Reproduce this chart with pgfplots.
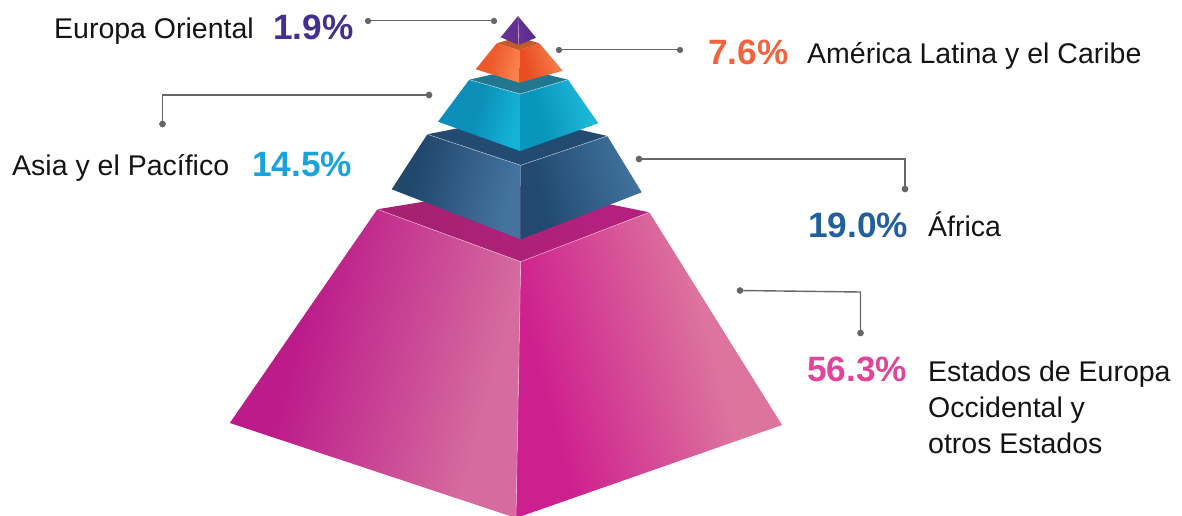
\documentclass[border=0pt]{standalone}
\usepackage{pgfplots}
\pgfplotsset{compat=1.18}
\usepackage{fontspec}
\setmainfont{Liberation Sans}

% Face shadings: stops 25bp and 75bp fall on the edges of the filled shape
\newcommand{\faceshade}[5]{\pgfdeclarehorizontalshading{#1}{100bp}{%
  rgb(0bp)=(#2);rgb(#3bp)=(#2);rgb(#4bp)=(#5);rgb(100bp)=(#5)}}
\faceshade{pinkL}{0.737,0.106,0.541}{36}{70}{0.835,0.420,0.620}
\faceshade{pinkR}{0.808,0.122,0.557}{30}{62}{0.863,0.455,0.616}
\faceshade{pinkT}{0.650,0.130,0.440}{30}{70}{0.710,0.125,0.500}
\faceshade{blueL}{0.129,0.278,0.424}{32}{72}{0.267,0.451,0.627}
\faceshade{blueR}{0.133,0.290,0.439}{32}{72}{0.247,0.443,0.612}
\faceshade{cyanL}{0.043,0.561,0.722}{48}{74}{0.078,0.702,0.839}
\faceshade{cyanR}{0.035,0.588,0.737}{38}{70}{0.114,0.722,0.847}
\faceshade{oranL}{0.933,0.353,0.165}{42}{74}{0.969,0.510,0.306}
\faceshade{oranR}{0.914,0.306,0.137}{32}{72}{0.969,0.494,0.294}
\faceshade{purpL}{0.420,0.200,0.590}{30}{72}{0.380,0.180,0.560}
\faceshade{purpR}{0.400,0.190,0.580}{30}{72}{0.330,0.160,0.530}

\definecolor{leader}{HTML}{666666}
\definecolor{labelInk}{HTML}{141414}
\definecolor{valPurple}{HTML}{3F3190}
\definecolor{valOrange}{HTML}{F2643E}
\definecolor{valCyan}{HTML}{19A3DC}
\definecolor{valBlue}{HTML}{215F9E}
\definecolor{valPink}{HTML}{E0459B}
\definecolor{topCyan}{HTML}{227690}
\definecolor{topBlue}{HTML}{234B72}
\definecolor{topOrange}{HTML}{C45A2A}

\newcommand{\lab}[3]{\node[anchor=base west,inner sep=0pt,font=\fontsize{28.5}{28.5}\selectfont,text=labelInk] at (axis cs:#1,#2) {#3};}
\newcommand{\val}[4]{\node[anchor=base west,inner sep=0pt,font=\fontsize{35.2}{35.2}\selectfont\bfseries,text=#4] at (axis cs:#1,#2) {#3};}

\begin{document}
\begin{tikzpicture}
\path[use as bounding box] (0,0) rectangle (1182pt,516pt);
\begin{axis}[
  at={(0,0)}, anchor=south west,
  hide axis, scale only axis,
  width=1182pt, height=516pt,
  xmin=0, xmax=1182, ymin=0, ymax=516, y dir=reverse,
  clip=true,
  highlight/.style={draw=white, draw opacity=0.5, line width=0.6pt},
  guide/.style={draw=leader, line width=1.4pt, mark=*, mark size=2.6pt,
    mark options={fill=leader, draw=leader, solid}},
]
% Bottom tier: Estados de Europa Occidental y otros Estados, 56.3
\addplot[draw=none, shading=pinkT] coordinates {(377.3,209.3) (520,186) (649.3,212.3) (520.7,261.7)} --cycle;
\addplot[draw=none, shading=pinkL, shading angle=-15] coordinates {(377.3,209.3) (520.7,261.7) (516,518) (229.8,423)} --cycle;
\addplot[draw=none, shading=pinkR, shading angle=15] coordinates {(520.7,261.7) (649.3,212.3) (782,425) (516,518)} --cycle;
\addplot[highlight] coordinates {(377.3,209.3) (520.7,261.7) (649.3,212.3)};
\addplot[highlight] coordinates {(520.7,261.7) (516,518)};

% Africa tier, 19.0
\addplot[draw=none, fill=topBlue] coordinates {(427.3,134.3) (520,116) (607.3,136) (520.7,165.3)} --cycle;
\addplot[draw=none, shading=blueL, shading angle=-15] coordinates {(427.3,134.3) (520.7,165.3) (520.7,239.3) (391.7,189.3)} --cycle;
\addplot[draw=none, shading=blueR, shading angle=15] coordinates {(520.7,165.3) (607.3,136) (641.7,192.3) (520.7,239.3)} --cycle;
\addplot[highlight] coordinates {(427.3,134.3) (520.7,165.3) (607.3,136)};

% Asia y el Pacifico tier, 14.5
\addplot[draw=none, fill=topCyan] coordinates {(469.3,79.7) (520,68) (568,79.7) (520,94)} --cycle;
\addplot[draw=none, shading=cyanL, shading angle=-15] coordinates {(469.3,79.7) (520,94) (520,151) (438,121.7)} --cycle;
\addplot[draw=none, shading=cyanR, shading angle=15] coordinates {(520,94) (568,79.7) (598.3,123.3) (520,151)} --cycle;
\addplot[highlight] coordinates {(469.3,79.7) (520,94) (568,79.7)};

% America Latina y el Caribe tier, 7.6
\addplot[draw=none, fill=topOrange] coordinates {(496.7,43.3) (518,37) (539.3,43.3) (519.3,50.3)} --cycle;
\addplot[draw=none, shading=oranL, shading angle=-15] coordinates {(496.7,43.3) (519.3,50.3) (519.3,82.7) (475.7,69.3)} --cycle;
\addplot[draw=none, shading=oranR, shading angle=15] coordinates {(519.3,50.3) (539.3,43.3) (562.7,70.7) (519.3,82.7)} --cycle;

% Europa Oriental tier, 1.9
\addplot[draw=none, shading=purpL, shading angle=-15] coordinates {(518,16) (518.7,45) (500.7,37.3)} --cycle;
\addplot[draw=none, shading=purpR, shading angle=15] coordinates {(518,16) (536,37.7) (518.7,45)} --cycle;
\addplot[highlight] coordinates {(518,16) (518.7,45)};

% Leader lines with end dots
\addplot[guide, mark indices={1,2}, line width=1pt] coordinates {(368,21) (494,21)};
\addplot[guide, mark indices={1,2}, line width=1pt] coordinates {(559,50) (680,50)};
\addplot[guide, mark indices={1,3}] coordinates {(429,95) (162.5,95) (162.5,124)};
\addplot[guide, mark indices={1,3}] coordinates {(639,159) (905,159) (905,189)};
\addplot[guide, mark indices={1,3}] coordinates {(740,290.5) (860.5,292) (860.5,333)};

% Labels and values
\lab{54}{38.5}{Europa Oriental}
\val{273}{40}{1.9\%}{valPurple}
\val{708}{65}{7.6\%}{valOrange}
\lab{807}{64}{América Latina y el Caribe}
\lab{12}{175.5}{Asia y el Pacífico}
\val{252}{176}{14.5\%}{valCyan}
\val{808}{237}{19.0\%}{valBlue}
\lab{928}{236}{África}
\val{807}{381}{56.3\%}{valPink}
\lab{928}{381}{Estados de Europa}
\lab{928}{417}{Occidental y}
\lab{928}{453}{otros Estados}
\end{axis}
\end{tikzpicture}
\end{document}
